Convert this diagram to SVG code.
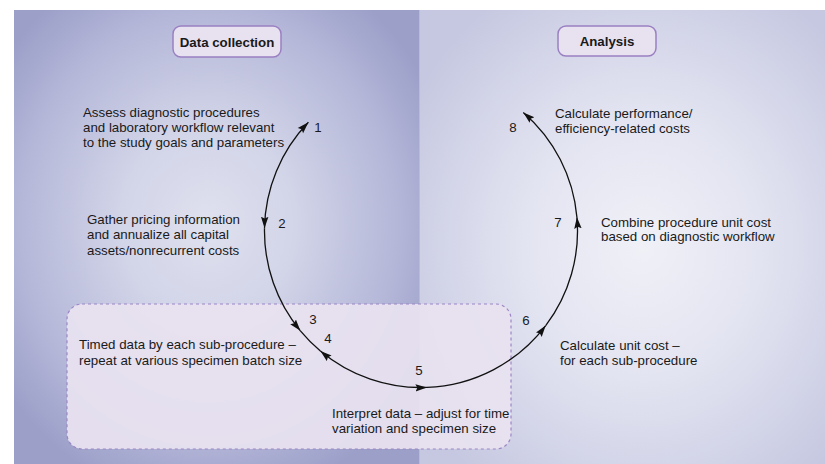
<svg xmlns="http://www.w3.org/2000/svg" width="825" height="464" viewBox="0 0 825 464">
  <defs>
    <radialGradient id="gLeft" cx="0.48" cy="0.47" r="0.62" fx="0.48" fy="0.47">
      <stop offset="0" stop-color="#dfe1ef"/>
      <stop offset="0.35" stop-color="#d2d4e8"/>
      <stop offset="0.75" stop-color="#b4b7d8"/>
      <stop offset="1" stop-color="#9c9fc8"/>
    </radialGradient>
    <radialGradient id="gRight" cx="0.55" cy="0.52" r="0.65" fx="0.55" fy="0.52">
      <stop offset="0" stop-color="#f0f0f7"/>
      <stop offset="0.45" stop-color="#e3e4f1"/>
      <stop offset="1" stop-color="#c6c8e1"/>
    </radialGradient>
    <marker id="arr" markerUnits="userSpaceOnUse" markerWidth="13" markerHeight="9" viewBox="0 0 13 9" refX="11.5" refY="4.5" orient="auto-start-reverse">
      <path d="M0,0.8 L11.5,4.5 L0,8.2 L1.8,4.5 Z" fill="#111"/>
    </marker>
    <style>
      .t { font-family: "Liberation Sans", Arial, Helvetica, sans-serif; font-size: 13.3px; fill: #1a1a1a; }
      .h { font-family: "Liberation Sans", Arial, Helvetica, sans-serif; font-size: 13.3px; font-weight: bold; fill: #1a1a1a; text-anchor: middle; }
      .n { font-family: "Liberation Sans", Arial, Helvetica, sans-serif; font-size: 13.3px; fill: #1a1a1a; text-anchor: middle; }
      .hb { fill: #e7e1f0; stroke: #9a80c2; stroke-width: 1.5; }
      .arc { fill: none; stroke: #111; stroke-width: 1.3; }
    </style>
  </defs>

  <g id="background">
    <rect x="0" y="0" width="825" height="464" fill="#ffffff"/>
    <rect x="14" y="10" width="405" height="454" fill="url(#gLeft)"/>
    <rect x="419" y="10" width="406" height="454" fill="url(#gRight)"/>
    <line x1="419.5" y1="10" x2="419.5" y2="464" stroke="#b9bbdb" stroke-width="1"/>
  </g>

  <g id="timing-region">
    <rect x="67" y="304" width="444" height="145" rx="15" ry="15" fill="#e8e2f0" fill-opacity="0.93" stroke="#9c86c6" stroke-width="1.2" stroke-dasharray="3 3"/>
  </g>

  <g id="header-data-collection">
    <rect class="hb" x="173" y="26" width="108" height="31" rx="8" ry="8"/>
    <text class="h" x="227" y="46.5">Data collection</text>
  </g>

  <g id="header-analysis">
    <rect class="hb" x="558" y="26" width="98" height="30" rx="8" ry="8"/>
    <text class="h" x="607" y="46">Analysis</text>
  </g>

  <g id="connectors">
    <path class="arc" d="M308.4,122.3 A156.5,156.5 0 0 0 264.5,228.3" marker-start="url(#arr)" marker-end="url(#arr)"/>
    <path class="arc" d="M264.5,228.3 A156.5,156.5 0 0 0 300.4,330.8" marker-end="url(#arr)"/>
    <path class="arc" d="M300.4,330.8 A156.5,156.5 0 0 0 320.4,350.9"/>
    <path class="arc" d="M320.4,350.9 A156.5,156.5 0 0 0 427.0,387.4" marker-start="url(#arr)" marker-end="url(#arr)"/>
    <path class="arc" d="M427.0,387.4 A156.5,156.5 0 0 0 545.7,325.6" marker-end="url(#arr)"/>
    <path class="arc" d="M545.7,325.6 A156.5,156.5 0 0 0 576.9,217.1" marker-end="url(#arr)"/>
    <path class="arc" d="M576.9,217.1 A156.5,156.5 0 0 0 523.3,112.5" marker-end="url(#arr)"/>
  </g>

  <g id="step1">
    <text class="t" x="83" y="116.5">Assess diagnostic procedures</text>
    <text class="t" x="83" y="131.5">and laboratory workflow relevant</text>
    <text class="t" x="83" y="146.5">to the study goals and parameters</text>
    <text class="n" x="318" y="131.5">1</text>
  </g>

  <g id="step2">
    <text class="t" x="87" y="223.5">Gather pricing information</text>
    <text class="t" x="87" y="239">and annualize all capital</text>
    <text class="t" x="87" y="254.5">assets/nonrecurrent costs</text>
    <text class="n" x="282" y="227.5">2</text>
  </g>

  <g id="step3">
    <text class="t" x="79" y="348.5">Timed data by each sub-procedure –</text>
    <text class="t" x="79" y="364.5">repeat at various specimen batch size</text>
    <text class="n" x="313" y="323.5">3</text>
  </g>

  <g id="step4">
    <text class="n" x="328" y="342.5">4</text>
  </g>

  <g id="step5">
    <text class="t" x="332" y="417.5">Interpret data – adjust for time</text>
    <text class="t" x="332" y="432.5">variation and specimen size</text>
    <text class="n" x="419" y="374.5">5</text>
  </g>

  <g id="step6">
    <text class="t" x="560" y="349.5">Calculate unit cost –</text>
    <text class="t" x="560" y="364.5">for each sub-procedure</text>
    <text class="n" x="526" y="324.5">6</text>
  </g>

  <g id="step7">
    <text class="t" x="601" y="226.5">Combine procedure unit cost</text>
    <text class="t" x="601" y="241">based on diagnostic workflow</text>
    <text class="n" x="558" y="226.5">7</text>
  </g>

  <g id="step8">
    <text class="t" x="555" y="117.5">Calculate performance/</text>
    <text class="t" x="555" y="132.5">efficiency-related costs</text>
    <text class="n" x="513" y="132">8</text>
  </g>
</svg>
